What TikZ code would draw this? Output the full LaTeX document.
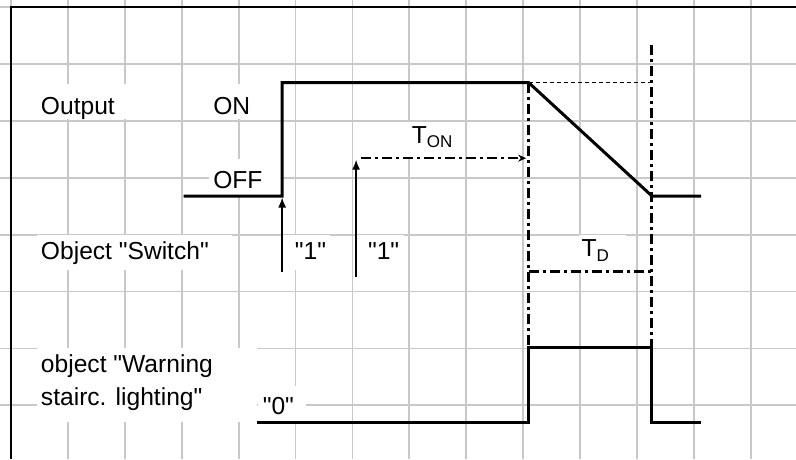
\documentclass[tikz,border=0pt]{standalone}
\usepackage{fontspec}
\setmainfont{Liberation Sans}
\usepackage{tikz}
\usetikzlibrary{arrows.meta}
\definecolor{blackline}{HTML}{000000}
\definecolor{gridgray}{HTML}{C8C8C8}
\tikzset{every node/.append style={font=\fontsize{12.3}{16}\selectfont}}
\tikzset{lbl/.style={inner sep=0pt,anchor=base west},
  signal/.style={blackline,line width=1.5pt},
  ddline/.style={blackline,line width=1.5pt,dash pattern=on 5pt off 2pt on 1.5pt off 2pt},
  trig/.style={blackline,line width=.7pt,-{Latex[length=5pt,width=4pt]}}}
\newcommand{\blankcell}[4]{\fill[white] (#1+.04,#2+.03) rectangle (#3-.04,#4-.03);}
\newcommand{\tsub}[1]{\raisebox{-2.3pt}{\fontsize{8.5}{9}\selectfont #1}}
\newcommand{\qt}{\textquotedbl}

\begin{document}
\begin{tikzpicture}[>=Stealth,x=12.325pt,y=18.9pt]
  \useasboundingbox (-0.446,-11.958) rectangle (31.846,0.185);
  \draw[gridgray,line width=.9pt] (-0.446,-11.958) grid (31.846,0.185);
  \blankcell{1}{-3}{5}{-2}
  \blankcell{8}{-3}{10}{-2}
  \blankcell{8}{-5}{11}{-4}
  \blankcell{1}{-7}{9}{-6}
  \blankcell{11}{-7}{13}{-6}
  \blankcell{14}{-7}{16}{-6}
  \blankcell{16}{-4}{18}{-3}
  \blankcell{23}{-7}{25}{-6}
  \blankcell{1}{-11}{10}{-9}
  \blankcell{10}{-11}{12}{-10}
  \draw[blackline,line width=.8pt] (31.846,0) -- (0,0) -- (0,-11.958);

  \node[lbl] (output) at (1.2,-2.857) {Output};
  \node[lbl] (on) at (8.19,-2.857) {ON};
  \node[lbl] (off) at (8.19,-4.79) {OFF};
  \node[lbl] (switch) at (1.2,-6.69) {Object \qt Switch\qt};
  \node[lbl] (one) at (11.5,-6.69) {\qt 1\qt};
  \node[lbl] (oneb) at (14.47,-6.69) {\qt 1\qt};
  \node[lbl] (ton) at (16.25,-3.6) {T\tsub{ON}};
  \node[lbl] (td) at (23.13,-6.6) {T\tsub{D}};
  \node[lbl] (warn) at (1.2,-9.68) {object \qt Warning};
  \node[lbl] (warnb) at (1.2,-10.53) {stairc. lighting\qt};
  \node[lbl] (zero) at (10.2,-10.77) {\qt 0\qt};

  \draw[signal] (7,-5) -- (11,-5) -- (11,-2) -- (21,-2) -- (26,-5) -- (28,-5);
  \draw[signal] (10,-11) -- (21,-11) -- (21,-9) -- (26,-9) -- (26,-11) -- (28,-11);
  \draw[blackline,line width=.7pt,dash pattern=on 2pt off 1.5pt] (21,-2) -- (26,-2);
  \draw[ddline] (21,-2) -- (21,-9);
  \draw[ddline] (26,-1) -- (26,-9);
  \draw[ddline] (21,-7) -- (26,-7);

  \coordinate (press) at (11,-7);
  \coordinate (pressb) at (14,-7.13);
  \coordinate (rise) at (11,-5.04);
  \coordinate (start) at (14,-4.04);
  \coordinate (stop) at (20.9,-4);
  \draw[trig] (press) -- (rise);
  \draw[trig] (pressb) -- (start);
  \draw[ddline,line width=1.2pt,-{Stealth[length=4pt,width=3.5pt]}] (14.2,-4) -- (stop);
\end{tikzpicture}
\end{document}
